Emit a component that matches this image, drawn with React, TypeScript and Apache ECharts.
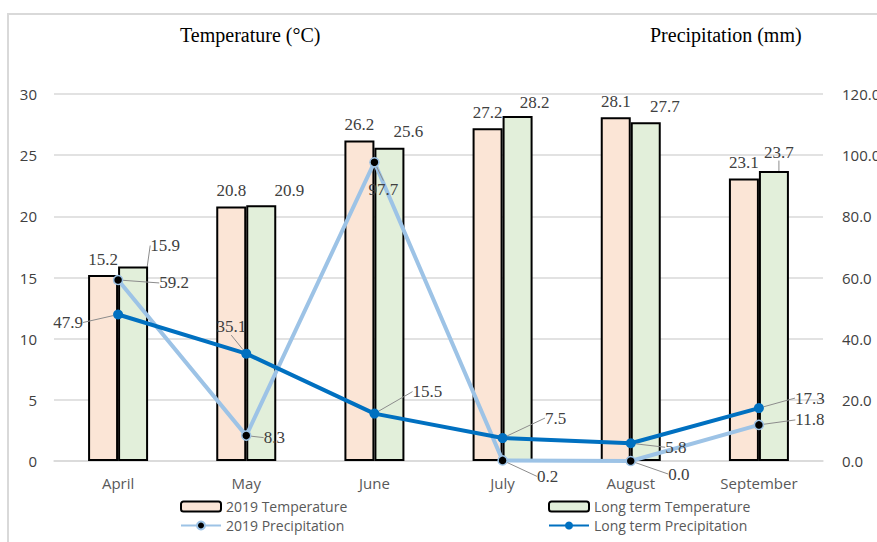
import React, { useEffect, useRef } from "react";
import * as echarts from "echarts";

const categories = ["April", "May", "June", "July", "August", "September"];
const temp2019 = [15.2, 20.8, 26.2, 27.2, 28.1, 23.1];
const tempLongTerm = [15.9, 20.9, 25.6, 28.2, 27.7, 23.7];
const precip2019 = [59.2, 8.3, 97.7, 0.2, 0.0, 11.8];
const precipLongTerm = [47.9, 35.1, 15.5, 7.5, 5.8, 17.3];

// label placement offsets (label centre relative to anchor), styling only
const temp2019LabelOffsets = [[0, -16], [0, -16], [0, -16], [0, -16], [0, -16], [0, -16]];
const tempLongLabelOffsets = [[32, -21], [28, -15], [19, -16], [17, -14], [19, -16], [5, -19]];
const precip2019LabelOffsets = [[56, 3], [28, 2], [9, 27], [45, 16], [48, 13], [51, -5]];
const precipLongLabelOffsets = [[-50, 8], [-15, -27], [53, -22], [53, -20], [45, 4], [51, -10]];
const tempLongLeaderShown = [true, false, false, false, false, true];

const SERIF = "'Liberation Serif', 'Times New Roman', serif";
const SANS = "'Open Sans', 'Noto Sans', sans-serif";

function barLayout(offsets: number[][]) {
  return (p: any) => {
    const o = offsets[p.dataIndex] || [0, 0];
    return {
      x: p.rect.x + p.rect.width / 2 + o[0],
      y: p.rect.y + o[1],
      align: "center",
      verticalAlign: "middle",
    };
  };
}

function pointLayout(offsets: number[][]) {
  return (p: any) => {
    const o = offsets[p.dataIndex] || [0, 0];
    return {
      x: p.rect.x + p.rect.width / 2 + o[0],
      y: p.rect.y + p.rect.height / 2 + o[1],
      align: "center",
      verticalAlign: "middle",
    };
  };
}

const labelText = {
  fontFamily: SERIF,
  fontSize: 17,
  color: "#404040",
};

export default function App() {
  const ref = useRef<HTMLDivElement>(null);
  useEffect(() => {
    if (!ref.current) return;
    const chart = echarts.init(ref.current, null, { renderer: "svg" });
    const legendBase = {
      itemWidth: 40,
      itemHeight: 10,
      padding: 0,
      textStyle: { fontFamily: SANS, fontSize: 14, lineHeight: 15, color: "#595959" },
    };
    const titleStyle = { fontFamily: SERIF, fontSize: 20, fontWeight: "normal", color: "#000000" };
    chart.setOption({
      animation: false,
      backgroundColor: "#ffffff",
      title: [
        { text: "Temperature (°C)", left: 180, top: 25, padding: 0, textStyle: titleStyle },
        { text: "Precipitation (mm)", left: 650, top: 25, padding: 0, textStyle: titleStyle },
      ],
      graphic: [
        {
          type: "rect",
          shape: { x: 8, y: 14, width: 900, height: 600 },
          style: { fill: "none", stroke: "#D9D9D9", lineWidth: 2 },
          silent: true,
        },
      ],
      legend: [
        { ...legendBase, data: ["2019 Temperature"], left: 180, top: 499 },
        { ...legendBase, data: ["Long term Temperature"], left: 548, top: 499 },
        { ...legendBase, data: ["2019 Precipitation"], left: 180, top: 518 },
        { ...legendBase, data: ["Long term Precipitation"], left: 548, top: 518 },
      ],
      grid: {
        left: 54,
        right: 54,
        top: 94,
        bottom: 81,
        containLabel: false,
        outerBoundsMode: "none",
      },
      xAxis: {
        type: "category",
        data: categories,
        axisTick: { show: false },
        axisLine: { lineStyle: { color: "#D9D9D9", width: 1.5 } },
        axisLabel: { fontFamily: SANS, fontSize: 15, color: "#595959", margin: 14 },
      },
      yAxis: [
        {
          type: "value",
          min: 0,
          max: 30,
          interval: 5,
          axisLine: { show: false },
          axisTick: { show: false },
          splitLine: { lineStyle: { color: "#D9D9D9", width: 1.5 } },
          axisLabel: { fontFamily: SANS, fontSize: 15, color: "#404040", margin: 17 },
        },
        {
          type: "value",
          min: 0,
          max: 120,
          interval: 20,
          axisLine: { show: false },
          axisTick: { show: false },
          splitLine: { show: false },
          axisLabel: {
            fontFamily: SANS,
            fontSize: 15,
            color: "#404040",
            margin: 19,
            formatter: (v: number) => v.toFixed(1),
          },
        },
      ],
      series: [
        {
          name: "2019 Temperature",
          type: "bar",
          yAxisIndex: 0,
          barWidth: 30,
          barGap: "0%",
          data: temp2019,
          itemStyle: { color: "#FBE5D6", borderColor: "#000000", borderWidth: 2 },
          label: { show: true, position: "top", ...labelText, formatter: (p: any) => p.value.toFixed(1) },
          labelLayout: barLayout(temp2019LabelOffsets),
        },
        {
          name: "Long term Temperature",
          type: "bar",
          yAxisIndex: 0,
          barWidth: 30,
          barGap: "0%",
          data: tempLongTerm.map((v, i) => ({
            value: v,
            labelLine: { show: tempLongLeaderShown[i] },
          })),
          itemStyle: { color: "#E2EFDA", borderColor: "#000000", borderWidth: 2 },
          label: { show: true, position: "top", ...labelText, formatter: (p: any) => p.value.toFixed(1) },
          labelLine: { show: true, lineStyle: { color: "#8C8C8C", width: 1 } },
          labelLayout: barLayout(tempLongLabelOffsets),
        },
        {
          name: "2019 Precipitation",
          type: "line",
          yAxisIndex: 1,
          data: precip2019,
          symbol: "circle",
          symbolSize: 9,
          lineStyle: { color: "#9DC3E6", width: 4 },
          itemStyle: { color: "#000000", borderColor: "#9DC3E6", borderWidth: 1.5 },
          label: { show: true, position: "right", ...labelText, formatter: (p: any) => p.value.toFixed(1) },
          labelLine: { show: true, lineStyle: { color: "#8C8C8C", width: 1 } },
          labelLayout: pointLayout(precip2019LabelOffsets),
          z: 3,
        },
        {
          name: "Long term Precipitation",
          type: "line",
          yAxisIndex: 1,
          data: precipLongTerm,
          symbol: "circle",
          symbolSize: 10,
          lineStyle: { color: "#0070C0", width: 4 },
          itemStyle: { color: "#0070C0" },
          label: { show: true, position: "right", ...labelText, formatter: (p: any) => p.value.toFixed(1) },
          labelLine: { show: true, lineStyle: { color: "#8C8C8C", width: 1 } },
          labelLayout: pointLayout(precipLongLabelOffsets),
          z: 4,
        },
      ],
    });
    return () => chart.dispose();
  }, []);
  return (
    <div
      ref={ref}
      style={{ position: "fixed", left: 0, top: 0, width: 877, height: 542 }}
    />
  );
}
